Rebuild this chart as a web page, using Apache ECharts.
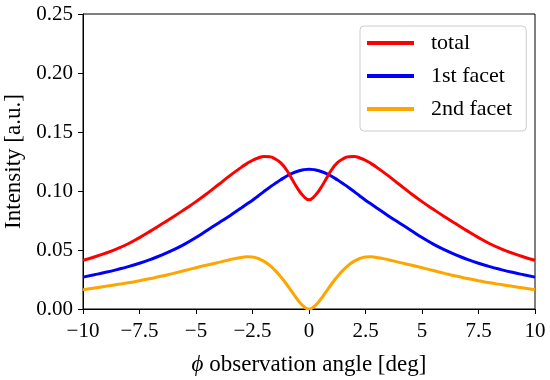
<!DOCTYPE html>
<html>
<head>
<meta charset="utf-8">
<script src="https://cdn.jsdelivr.net/npm/echarts@6/dist/echarts.min.js"></script>
<style>html,body{margin:0;padding:0;background:#fff}#c{width:550px;height:380px}</style>
</head>
<body>
<div id="c"></div>
<script>
const angles = [-10,-9.5,-9,-8.5,-8,-7.5,-7,-6.5,-6,-5.5,-5,-4.5,-4,-3.5,
  -3,-2.75,-2.5,-2.25,-2,-1.75,-1.5,-1.25,-1,-0.75,-0.5,-0.25,0,0.25,0.5,0.75,1,1.25,1.5,1.75,2,2.25,2.5,2.75,3,
  3.5,4,4.5,5,5.5,6,6.5,7,7.5,8,8.5,9,9.5,10];
const total = [0.0413,0.0441,0.0473,0.0510,0.0553,0.0605,0.0662,0.0722,0.0782,0.0845,0.0910,0.0980,0.1055,0.1130,
  0.1200,0.1232,0.1260,0.1280,0.1292,0.1290,0.1272,0.1238,0.1180,0.1100,0.1020,0.0958,0.0926,0.0958,0.1020,0.1100,0.1180,0.1238,0.1272,0.1290,0.1292,0.1280,0.1260,0.1232,0.1200,
  0.1130,0.1055,0.0980,0.0910,0.0845,0.0782,0.0722,0.0662,0.0605,0.0553,0.0510,0.0473,0.0441,0.0413];
const facet1 = [0.0270,0.0290,0.0311,0.0334,0.0359,0.0388,0.0421,0.0458,0.0501,0.0550,0.0606,0.0668,0.0729,0.0791,
  0.0856,0.0889,0.0922,0.0958,0.0995,0.1030,0.1063,0.1095,0.1125,0.1150,0.1167,0.1180,0.1185,0.1180,0.1167,0.1150,0.1125,0.1095,0.1063,0.1030,0.0995,0.0958,0.0922,0.0889,0.0856,
  0.0791,0.0729,0.0668,0.0606,0.0550,0.0501,0.0458,0.0421,0.0388,0.0359,0.0334,0.0311,0.0290,0.0270];
const facet2 = [0.0164,0.0178,0.0192,0.0207,0.0222,0.0240,0.0259,0.0279,0.0302,0.0326,0.0350,0.0373,0.0395,0.0418,
  0.0437,0.0442,0.0440,0.0428,0.0405,0.0372,0.0327,0.0273,0.0212,0.0145,0.0078,0.0025,0.0000,0.0025,0.0078,0.0145,0.0212,0.0273,0.0327,0.0372,0.0405,0.0428,0.0440,0.0442,0.0437,
  0.0418,0.0395,0.0373,0.0350,0.0326,0.0302,0.0279,0.0259,0.0240,0.0222,0.0207,0.0192,0.0178,0.0164];
const seriesNames = ['total','1st facet','2nd facet'];
const xTicks = [-10,-7.5,-5,-2.5,0,2.5,5,7.5,10];
const yTicks = [0,0.05,0.10,0.15,0.20,0.25];

const FONT = "'Liberation Serif','DejaVu Serif',serif";
const pair = arr => angles.map((x,i)=>[x,arr[i]]);
const colors = ['#ff0000','#0000ff','#ffa500'];
const chart = echarts.init(document.getElementById('c'));
chart.setOption({
  animation:false,
  grid:{left:83,right:15,top:14,bottom:71,outerBoundsMode:'none',containLabel:false,
    show:true,borderColor:'#000',borderWidth:1,backgroundColor:'transparent'},
  legend:{
    orient:'vertical', left:360, top:26, icon:'rect', itemWidth:47, itemHeight:4, itemGap:11,
    padding:[6,14,11,7], borderColor:'#cccccc', borderWidth:1, borderRadius:4, backgroundColor:'rgba(255,255,255,0.85)',
    textStyle:{fontFamily:FONT,fontSize:22,color:'#000',lineHeight:22,padding:[0,0,0,12]},
    data:seriesNames
  },
  xAxis:{
    type:'value', min:xTicks[0], max:xTicks[xTicks.length-1], interval:2.5,
    axisLine:{show:true,onZero:false,lineStyle:{color:'#000',width:1}},
    axisTick:{show:true,length:5,lineStyle:{color:'#000'}},
    splitLine:{show:false},
    axisLabel:{margin:12,fontFamily:FONT,fontSize:21,color:'#000',
      formatter:v=>String(v).replace('-','\u2212')},
    name:'{p|\u03D5} observation angle [deg]', nameLocation:'middle', nameGap:44,
    nameTextStyle:{fontFamily:FONT,fontSize:23,color:'#000',rich:{p:{fontFamily:FONT,fontSize:23,fontStyle:'italic',color:'#000'}}}
  },
  yAxis:{
    type:'value', min:yTicks[0], max:yTicks[yTicks.length-1], interval:0.05,
    axisLine:{show:true,onZero:false,lineStyle:{color:'#000',width:1}},
    axisTick:{show:true,length:5,lineStyle:{color:'#000'}},
    splitLine:{show:false},
    axisLabel:{margin:10,fontFamily:FONT,fontSize:21,color:'#000',formatter:v=>v.toFixed(2)},
    name:'Intensity [a.u.]', nameLocation:'middle', nameGap:55,
    nameTextStyle:{fontFamily:FONT,fontSize:23,color:'#000'}
  },
  series:[total,facet1,facet2].map((arr,i)=>({
    name:seriesNames[i], type:'line', data:pair(arr), smooth:0.5, showSymbol:false,
    lineStyle:{color:colors[i],width:3}, itemStyle:{color:colors[i]}, z:3-i
  }))
});
</script>
</body>
</html>
